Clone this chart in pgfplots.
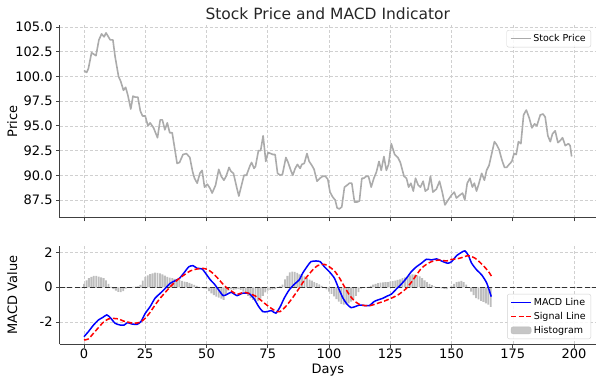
\documentclass[border=0pt]{standalone}
\usepackage{pgfplots}
\pgfplotsset{compat=1.18}
\usepackage{fontspec}
\setmainfont{DejaVu Sans}
\definecolor{pricegray}{HTML}{ABABAB}
\definecolor{histgray}{HTML}{BDBDBD}
\definecolor{gridgray}{HTML}{D0D0D0}
\definecolor{spine}{HTML}{404040}
\pgfplotsset{
  mystyle/.style={
    scale only axis,
    xmin=-9.95, xmax=208.95,
    axis lines=left,
    axis line style={-, spine, line width=1pt},
    grid=major,
    grid style={dashed, gridgray, line width=0.6pt, dash pattern=on 3pt off 2pt},
    tick align=outside,
    major tick length=3.5pt,
    tick style={spine, line width=0.8pt},
    xtick={0,25,...,200},
    tick label style={font=\fontsize{13}{13}\selectfont},
    xticklabel style={inner sep=1pt},
    /pgf/number format/assume math mode=true,
    legend cell align=left,
    every axis y label/.style={at={(axis description cs:-0.088,0.5)}, rotate=90, anchor=center, font=\fontsize{13}{13}\selectfont},
    every axis x label/.style={at={(axis description cs:0.5,-0.262)}, anchor=center, inner sep=0pt, font=\fontsize{13}{13}\selectfont},
  },
  mylegend/.style={
    legend style={draw=black!18, fill=white, fill opacity=0.85, text opacity=1,
      rounded corners=2pt, font=\fontsize{9.5}{11}\selectfont,
      inner xsep=3pt, inner ysep=1.5pt,
      nodes={inner ysep=2.6pt}},
  },
  lineleg/.style={legend image code/.code={\draw[##1] (0pt,0pt) -- (20pt,0pt);}},
}
\begin{document}
\begin{tikzpicture}[x=1pt,y=1pt]
\path[use as bounding box] (0,0) rectangle (602,-381);
\node[font=\fontsize{15.5}{16}\selectfont, text=black!85] at (327.8,-14) {Stock Price and MACD Indicator};
\begin{axis}[mystyle, mylegend,
  at={(59.6pt,-24.5pt)}, anchor=north west,
  width=536.4pt, height=193.3pt,
  ymin=85.7, ymax=105.25,
  ytick={87.5,90,...,105},
  yticklabel style={/pgf/number format/.cd, fixed, fixed zerofill, precision=1},
  xticklabels={},
  ylabel={Price},
  legend style={at={(0.9907,0.9715)}, anchor=north east},
]
\addplot[pricegray, line width=1.6pt, line join=round, forget plot] coordinates {
(0,100.6) (1.1,100.4) (1.8,100.8) (3.1,102.4) (4.9,102.1) (6.1,103.7) (7.2,104.3) (8.2,104.0) (9,104.4)
(10.7,103.7) (11.8,103.7) (12.7,102.0) (14.1,100.0) (15,99.5) (16.1,98.6) (17,98.9) (17.9,98.1) (19.1,96.7)
(20,98.0) (21,97.9) (22,97.9) (23,96.5) (23.9,96.0) (25,96.0) (26.1,95.0) (27,95.3) (28.4,94.8) (30,93.8)
(31.1,95.6) (32,95.6) (33,94.6) (34,95.3) (35,94.3) (36,94.3) (38,91.2) (39,91.3) (40.4,92.1) (41.8,92.2)
(43.2,91.8) (44.3,90.4) (45.1,89.7) (46.2,89.2) (47.3,90.2) (48.2,90.5) (49.2,88.8) (50.3,89.1) (51.4,88.7)
(52.3,88.2) (53.7,89.0) (55,90.6) (56,89.9) (57.1,89.5) (58,89.9) (59.2,90.8) (60,90.4) (61,90.2) (62.3,88.8)
(63.2,87.9) (65.3,90.0) (66.3,90.0) (67.8,91.0) (68.4,91.3) (69.4,90.7) (70,90.9) (71.2,92.5) (72.1,92.5)
(73.1,94.0) (74.2,91.4) (75.1,92.3) (76.2,92.2) (77.1,92.1) (78,92.1) (79,90.2) (80.1,90.0) (81,90.1)
(82.4,91.8) (83.3,91.3) (84.4,90.5) (85.2,90.0) (86.2,90.7) (87.1,91.1) (88.2,90.7) (88.9,91.1) (89.9,91.2)
(91,92.2) (91.9,91.4) (93,91.0) (93.9,90.6) (95.1,89.4) (96.3,89.7) (97.4,89.9) (98.5,89.9) (99.5,89.6)
(100.4,88.3) (101.5,87.8) (102.5,87.5) (103.3,86.7) (104.2,86.6) (105.2,86.8) (106.3,88.8) (107.4,89.0)
(108.3,89.2) (109.3,89.2) (110.4,87.3) (111.5,87.3) (112.4,87.4) (113.4,89.7) (114.2,89.7) (115.2,89.9)
(116.1,89.9) (117.2,88.8) (118.3,89.7) (119.3,90.3) (120.4,91.4) (121.3,90.5) (122.4,91.9) (123.4,90.5)
(124.3,91.1) (125.4,93.2) (126.8,92.1) (128.1,91.8) (129.1,91.3) (130.6,89.9) (131.6,89.7) (132.5,88.8)
(133.4,89.2) (134.4,88.4) (135.3,89.7) (136.4,89.0) (137.3,88.8) (138.4,89.4) (139.3,88.4) (140.4,88.6)
(141.4,89.9) (142.4,88.3) (143.8,88.6) (145.1,89.4) (146.2,88.3) (147.3,87.0) (148.6,87.5) (150,88.0)
(151.1,88.3) (152,87.7) (153.4,88.0) (154.5,88.2) (155.4,87.5) (156.4,89.2) (157.5,89.7) (158.5,88.8)
(159.3,89.2) (160.2,88.4) (161.2,89.2) (162.3,90.2) (163.4,89.5) (164.3,90.5) (165.3,91.0) (166.4,92.2)
(167.5,93.4) (168.4,93.1) (169.4,92.6) (170.5,91.6) (171.6,90.8) (172.5,90.8) (173.5,91.1) (174.6,91.4)
(175.5,92.2) (176.4,92.1) (177.3,93.4) (178.3,93.2) (179.4,96.1) (180.5,96.6) (181.7,95.8) (182.8,94.8)
(183.9,95.2) (184.8,95.0) (186.2,96.1) (187.3,96.2) (188.2,95.9) (189.3,94.0) (190.3,93.4) (191.2,94.2)
(192.3,94.5) (193.4,93.3) (194.3,93.5) (195.3,93.8) (196.4,93.0) (197.7,93.2) (198.4,93.0) (199,91.9)
};
\addlegendimage{lineleg, pricegray, line width=1.6pt}
\addlegendentry{Stock Price}
\end{axis}
\begin{axis}[mystyle, mylegend,
  at={(59.6pt,-246pt)}, anchor=north west,
  width=536.4pt, height=98pt,
  ymin=-3.26, ymax=2.37,
  ytick={-2,0,2},
  xlabel={Days},
  ylabel={MACD Value},
  legend style={at={(0.9907,0.051)}, anchor=south east},
]
\addplot[ybar, bar width=0.75, bar shift=0pt, fill=histgray, draw=none, forget plot] coordinates {
(0,0.2) (1,0.4) (2,0.52) (3,0.6) (4,0.65) (5,0.65) (6,0.61) (7,0.57) (8,0.52) (9,0.4)
(10,0.2) (11,0.02) (12,-0.1) (13,-0.19) (14,-0.27) (15,-0.28) (16,-0.22) (17,-0.08) (18,-0.02) (19,0.0)
(20,0.02) (21,0.03) (22,0.05) (23,0.13) (24,0.38) (25,0.6) (26,0.68) (27,0.75) (28,0.8) (29,0.84)
(30,0.82) (31,0.8) (32,0.74) (33,0.67) (34,0.6) (35,0.56) (36,0.52) (37,0.48) (38,0.45) (39,0.42)
(40,0.37) (41,0.33) (42,0.3) (43,0.25) (44,0.2) (45,0.14) (46,0.08) (47,0.02) (48,-0.03) (49,-0.07)
(50,-0.1) (51,-0.22) (52,-0.35) (53,-0.45) (54,-0.54) (55,-0.6) (56,-0.65) (57,-0.73) (58,-0.45) (59,-0.2)
(60,-0.12) (61,-0.15) (62,-0.12) (63,-0.1) (64,-0.15) (65,-0.25) (66,-0.38) (67,-0.5) (68,-0.63) (69,-0.72)
(70,-0.82) (71,-0.8) (72,-0.65) (73,-0.5) (74,-0.3) (75,-0.2) (76,-0.15) (77,-0.12) (78,-0.1) (79,-0.03)
(80,0.05) (81,0.15) (82,0.45) (83,0.65) (84,0.85) (85,0.9) (86,0.88) (87,0.82) (88,0.74) (89,0.68)
(90,0.62) (91,0.52) (92,0.44) (93,0.38) (94,0.3) (95,0.24) (96,0.16) (97,0.08) (98,0.0) (99,-0.12)
(100,-0.25) (101,-0.38) (102,-0.52) (103,-0.68) (104,-0.82) (105,-0.95) (106,-1.0) (107,-0.99) (108,-0.92) (109,-0.82)
(110,-0.68) (111,-0.5) (112,-0.28) (113,-0.08) (114,-0.02) (115,0.0) (116,0.02) (117,0.08) (118,0.15) (119,0.2)
(120,0.24) (121,0.27) (122,0.28) (123,0.29) (124,0.3) (125,0.32) (126,0.35) (127,0.38) (128,0.42) (129,0.46)
(130,0.52) (131,0.57) (132,0.62) (133,0.68) (134,0.74) (135,0.72) (136,0.68) (137,0.62) (138,0.52) (139,0.4)
(140,0.3) (141,0.2) (142,0.12) (143,0.05) (144,0.01) (145,-0.04) (146,-0.06) (147,-0.09) (148,-0.1) (149,0.0)
(150,0.1) (151,0.2) (152,0.29) (153,0.33) (154,0.36) (155,0.3) (156,0.15) (157,0.0) (158,-0.25) (159,-0.45)
(160,-0.62) (161,-0.7) (162,-0.78) (163,-0.84) (164,-0.92) (165,-1.0) (166,-1.12)
};
\addplot[black!80, line width=1.3pt, dash pattern=on 5pt off 2.5pt, forget plot] coordinates {(-9.95,0) (208.95,0)};
\addplot[blue, line width=1.5pt, smooth, tension=0.4, forget plot] coordinates {
(0,-2.84) (1.8,-2.55) (3.9,-2.17) (5.9,-1.88) (7.7,-1.73) (9.3,-1.59) (10.7,-1.74) (12.7,-2.07) (14.8,-2.17)
(16.4,-2.17) (17.8,-2.03) (19.5,-2.11) (21.6,-2.13) (23.2,-1.98) (25,-1.50) (27,-1.11) (29,-0.63) (31.1,-0.35)
(33.2,-0.06) (35.2,0.23) (37.3,0.38) (39,0.52) (41,0.86) (42.8,1.18) (44.5,1.24) (46.2,1.09) (48.2,1.05)
(49.9,0.75) (51.6,0.42) (53.3,0.17) (55,-0.16) (56.8,-0.48) (58.5,-0.40) (60.1,-0.29) (62.5,-0.48) (64.5,-0.35)
(67.2,-0.35) (69.3,-0.63) (71.3,-1.11) (73,-1.40) (74.8,-1.40) (76.5,-1.34) (78.3,-1.49) (80.1,-1.11)
(81.7,-0.63) (83.7,-0.16) (85.8,0.17) (87.8,0.42) (89.2,0.80) (91,1.18) (92.6,1.47) (94.7,1.51) (96.4,1.47)
(98.1,1.18) (100.1,0.90) (102.2,0.52) (103.8,-0.02) (105.6,-0.60) (107.4,-0.98) (109,-1.17) (110.7,-1.11)
(112.4,-1.02) (114.5,-1.05) (116.5,-1.05) (118.3,-0.83) (119.9,-0.73) (122,-0.63) (123.8,-0.50) (125.4,-0.40)
(127.5,-0.10) (129.5,0.18) (131.6,0.52) (133.6,0.90) (135.7,1.18) (137.7,1.38) (139.8,1.61) (141.8,1.57)
(143.9,1.63) (145.9,1.51) (148.4,1.38) (150,1.47) (152.1,1.82) (154.1,2.01) (155.5,2.09) (156.9,1.82)
(158.2,1.38) (160.3,0.99) (162.3,0.71) (164.4,0.23) (166.2,-0.54)
};
\addplot[red, line width=1.5pt, dash pattern=on 5pt off 2.5pt, smooth, tension=0.4, forget plot] coordinates {
(0,-3.03) (1.8,-2.97) (3.9,-2.64) (5.9,-2.32) (7.9,-2.01) (10,-1.82) (12,-1.79) (14.1,-1.82) (16.1,-1.94)
(18.2,-2.01) (20.2,-2.07) (22.9,-2.01) (25,-1.78) (27,-1.44) (29,-1.02) (31.1,-0.63) (33.2,-0.29) (35.2,0.03)
(37.3,0.32) (39.3,0.55) (41.4,0.76) (43.4,0.94) (45.5,1.03) (48.2,1.09) (50.3,1.03) (52.3,0.84) (54.4,0.55)
(56.4,0.23) (58.5,-0.06) (60.5,-0.25) (62.5,-0.40) (65.3,-0.29) (67.2,-0.35) (69.9,-0.50) (72.6,-0.79)
(75.4,-1.11) (78.2,-1.36) (80,-1.40) (82.3,-1.11) (85,-0.63) (87.8,-0.06) (90.5,0.52) (93.3,0.99) (95.3,1.24)
(98.1,1.32) (100.1,1.18) (102.2,0.94) (104.2,0.55) (106.3,0.03) (108.3,-0.44) (110.4,-0.79) (112.4,-0.98)
(114.5,-1.05) (116.9,-1.05) (119.9,-0.92) (122.6,-0.79) (125.4,-0.63) (128.1,-0.44) (130.5,-0.2) (131.6,-0.06)
(133.6,0.29) (135.7,0.71) (137.7,1.09) (139.8,1.32) (141.8,1.47) (143.9,1.55) (145.9,1.55) (148,1.51)
(150,1.60) (152.1,1.63) (154.1,1.70) (156.2,1.80) (157.5,1.80) (159.6,1.67) (161.6,1.43) (163.7,1.13)
(165.3,0.86) (166.4,0.61)
};
\addlegendimage{lineleg, blue, line width=1.5pt}
\addlegendentry{MACD Line}
\addlegendimage{lineleg, red, line width=1.5pt, dash pattern=on 5pt off 2.5pt}
\addlegendentry{Signal Line}
\addlegendimage{legend image code/.code={\fill[histgray] (0pt,-3.5pt) rectangle (20pt,3.5pt);}}
\addlegendentry{Histogram}
\end{axis}
\end{tikzpicture}
\end{document}
